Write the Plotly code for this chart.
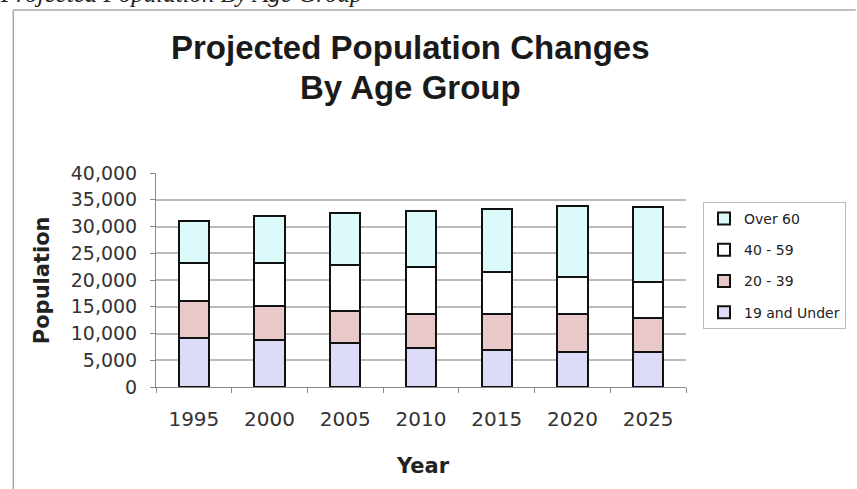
import plotly.graph_objects as go

years = ["1995", "2000", "2005", "2010", "2015", "2020", "2025"]
under19 = [9100, 8800, 8150, 7250, 6900, 6600, 6600]
age20_39 = [7000, 6400, 6100, 6400, 6750, 7050, 6250]
age40_59 = [7000, 7900, 8500, 8850, 7900, 7000, 6750]
over60 = [7850, 8850, 9800, 10400, 11800, 13200, 14100]

series = [
    ("19 and Under", under19, "#dcdcf8", 4),
    ("20 - 39", age20_39, "#e8c8c8", 3),
    ("40 - 59", age40_59, "#ffffff", 2),
    ("Over 60", over60, "#dcfafa", 1),
]

W, H = 857, 489
L, R, T, B = 156, 170, 173, 102
pw, ph = W - L - R, H - T - B

def px(x):
    return (x - L) / pw

def py(y):
    return (H - B - y) / ph

fig = go.Figure()
for name, vals, col, rank in series:
    fig.add_trace(go.Bar(x=years, y=vals, name=name, legendgroup=name, legendrank=rank,
                         marker=dict(color=col, line=dict(color="#111111", width=2))))

afont = "Arial, Liberation Sans, sans-serif"
dfont = "DejaVu Sans, sans-serif"
fig.update_layout(
    width=W, height=H,
    margin=dict(l=L, r=R, t=T, b=B),
    barmode="stack", bargap=0.6,
    plot_bgcolor="white", paper_bgcolor="white",
    font=dict(family=dfont, size=18, color="#222222"),
    showlegend=True,
    legend=dict(x=px(703), y=py(202), xanchor="left", yanchor="top",
                traceorder="grouped", bordercolor="#bbbbbb", borderwidth=1,
                font=dict(family=dfont, size=14, color="#222222"), bgcolor="white",
                itemwidth=30, tracegroupgap=10),
    xaxis=dict(showline=True, linecolor="#888888", linewidth=1,
               ticks="outside", tickson="boundaries", ticklen=5, tickcolor="#888888",
               ticklabelstandoff=14,
               tickfont=dict(family=dfont, size=20, color="#333333")),
    yaxis=dict(range=[0, 40000], dtick=5000, tickformat=",d",
               showgrid=True, gridcolor="#bbbbbb", gridwidth=1.5,
               showline=True, linecolor="#888888", linewidth=1,
               ticks="outside", ticklen=5, tickcolor="#888888",
               zeroline=False, ticklabelstandoff=9,
               tickfont=dict(family=dfont, size=19, color="#333333")),
    annotations=[
        dict(text="<b>Projected Population Changes</b>", x=px(411), y=py(47),
             xref="paper", yref="paper", showarrow=False, xanchor="center", yanchor="middle",
             font=dict(family=afont, size=33, color="#1a1a1a")),
        dict(text="<b>By Age Group</b>", x=px(411), y=py(88),
             xref="paper", yref="paper", showarrow=False, xanchor="center", yanchor="middle",
             font=dict(family=afont, size=33, color="#1a1a1a")),
        dict(text="<i>Projected Population By Age Group</i>", x=px(-2), y=py(9),
             xref="paper", yref="paper", showarrow=False, xanchor="left", yanchor="bottom",
             font=dict(family="Liberation Serif, Times New Roman, serif", size=25, color="#222222")),
        dict(text="<b>Population</b>", x=px(42), y=py(280), textangle=-90,
             xref="paper", yref="paper", showarrow=False, xanchor="center", yanchor="middle",
             font=dict(family=dfont, size=21, color="#222222")),
        dict(text="<b>Year</b>", x=px(424), y=py(466),
             xref="paper", yref="paper", showarrow=False, xanchor="center", yanchor="middle",
             font=dict(family=dfont, size=21, color="#222222")),
    ],
    shapes=[
        dict(type="line", xref="paper", yref="paper", x0=px(13), x1=px(13), y0=py(10), y1=py(489),
             line=dict(color="#aaaaaa", width=1.5)),
        dict(type="line", xref="paper", yref="paper", x0=px(13), x1=px(857), y0=py(10), y1=py(10),
             line=dict(color="#aaaaaa", width=1.5)),
    ],
)

fig.write_html("out.html")
